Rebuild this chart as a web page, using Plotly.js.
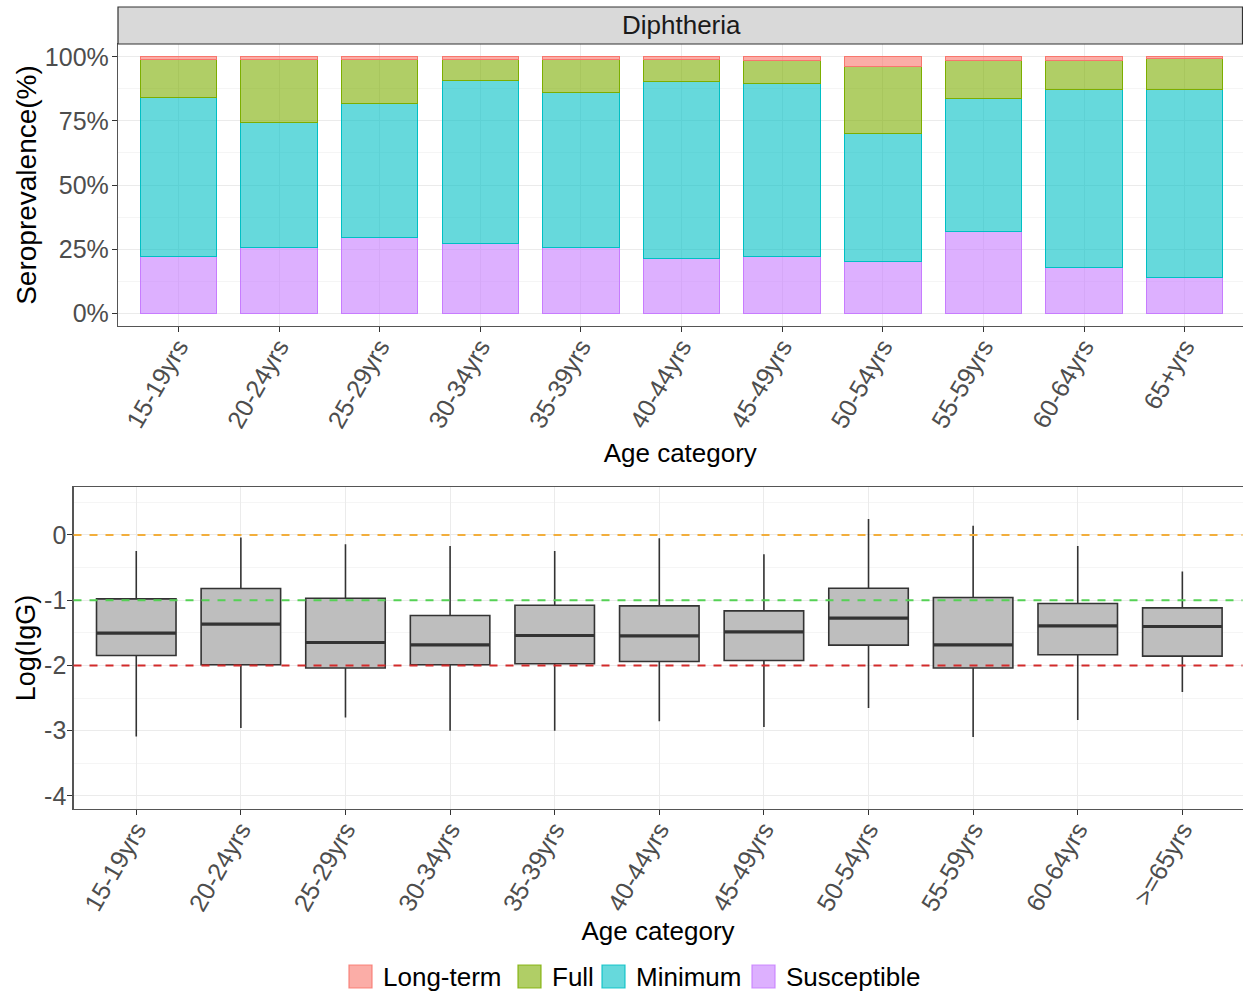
<!DOCTYPE html>
<html>
<head>
<meta charset="utf-8">
<script src="https://cdn.plot.ly/plotly-3.0.1.min.js"></script>
<style>
html,body{margin:0;padding:0;background:#fff;}
#chart{width:1243px;height:991px;}
</style>
</head>
<body>
<div id="chart"></div>
<script>
// ---------- data ----------
var topCategories = ["15-19yrs","20-24yrs","25-29yrs","30-34yrs","35-39yrs","40-44yrs","45-49yrs","50-54yrs","55-59yrs","60-64yrs","65+yrs"];
var susceptible = [22.1, 25.8, 29.7, 27.1, 25.5, 21.5, 22.0, 20.3, 31.9, 18.0, 14.1];
var minimum     = [62.0, 48.4, 51.9, 63.8, 60.4, 68.7, 67.6, 49.8, 52.0, 69.4, 73.1];
var full        = [14.9, 24.8, 17.4,  8.1, 13.1,  8.8,  8.8, 26.0, 14.8, 11.0, 12.0];
var longTerm    = [ 1.0,  1.0,  1.0,  1.0,  1.0,  1.0,  1.6,  3.9,  1.3,  1.6,  0.8];

var bottomCategories = ["15-19yrs","20-24yrs","25-29yrs","30-34yrs","35-39yrs","40-44yrs","45-49yrs","50-54yrs","55-59yrs","60-64yrs",">=65yrs"];
var upperWhisker = [-0.245, -0.04, -0.143, -0.168, -0.245, -0.05, -0.296,  0.245,  0.143, -0.168, -0.561];
var q3Values     = [-0.98, -0.82, -0.97, -1.235, -1.077, -1.087, -1.163, -0.816, -0.959, -1.051, -1.117];
var medianValues = [-1.505, -1.367, -1.648, -1.684, -1.541, -1.546, -1.485, -1.276, -1.684, -1.393, -1.403];
var q1Values     = [-1.847, -1.99, -2.04, -1.99, -1.974, -1.94, -1.923, -1.689, -2.04, -1.837, -1.857];
var lowerWhisker = [-3.087, -2.96, -2.796, -3.0, -3.0, -2.857, -2.944, -2.653, -3.097, -2.837, -2.408];

var thresholds = [0, -1, -2];
var thresholdColors = ["#F2AE3C", "#55D155", "#D12B2B"];

var legendNames = ["Long-term", "Full", "Minimum", "Susceptible"];
var legendColors = ["248,118,109", "124,174,0", "0,191,196", "199,124,255"];

// ---------- helpers ----------
var W = 1243, H = 991;
function px(x){ return x / W; }
function py(y){ return 1 - y / H; }
var idxTop = topCategories.map(function(_, i){ return i; });
var idxBot = bottomCategories.map(function(_, i){ return i; });

var FONT = "Liberation Sans, Arial, sans-serif";
var tickFont = {family: FONT, size: 25, color: "#4D4D4D"};
var titleFont = {family: FONT, size: 26, color: "#000"};

function barTrace(name, vals, rgb){
  return {
    type: "bar", name: name, x: idxTop, y: vals, width: 0.76,
    xaxis: "x", yaxis: "y", showlegend: false,
    marker: {color: "rgba(" + rgb + ",0.6)", line: {color: "rgb(" + rgb + ")", width: 1}},
    hoverinfo: "name+y"
  };
}

var traces = [
  barTrace("Susceptible", susceptible, legendColors[3]),
  barTrace("Minimum", minimum, legendColors[2]),
  barTrace("Full", full, legendColors[1]),
  barTrace("Long-term", longTerm, legendColors[0])
];

traces.push({
  type: "box", x: idxBot, xaxis: "x2", yaxis: "y2",
  q1: q1Values, median: medianValues, q3: q3Values,
  lowerfence: lowerWhisker, upperfence: upperWhisker,
  width: 0.76, whiskerwidth: 0, boxpoints: false,
  fillcolor: "#BEBEBE", line: {color: "#333333", width: 1.6},
  showlegend: false, name: "Log(IgG)"
});

// thicker median bars (ggplot style)
var mx = [], my = [];
idxBot.forEach(function(i){
  mx.push(i - 0.38, i + 0.38, null);
  my.push(medianValues[i], medianValues[i], null);
});
traces.push({
  type: "scatter", mode: "lines", x: mx, y: my, xaxis: "x2", yaxis: "y2",
  line: {color: "#333333", width: 3.2}, showlegend: false, hoverinfo: "skip"
});

var topDom = [py(326), py(44)];
var botDom = [py(809), py(487)];

var shapes = [
  // facet strip
  {type: "rect", xref: "paper", yref: "paper", x0: px(118), x1: px(1242.5), y0: py(44), y1: py(7),
   fillcolor: "#D9D9D9", line: {color: "#333333", width: 1.2}, layer: "above"}
];
thresholds.forEach(function(t, k){
  shapes.push({type: "line", xref: "x2 domain", yref: "y2", x0: 0, x1: 1, y0: t, y1: t,
    line: {color: thresholdColors[k], width: 2, dash: "8px,8px"}, layer: "above"});
});

var annotations = [
  {text: "Diphtheria", xref: "paper", yref: "paper", x: px(681), y: py(25.5),
   xanchor: "center", yanchor: "middle", showarrow: false,
   font: {family: FONT, size: 26, color: "#1A1A1A"}}
];

// custom legend (ggplot-like keys)
var keyLeft = [349, 518, 602, 752];
legendNames.forEach(function(name, k){
  var x0 = keyLeft[k];
  shapes.push({type: "rect", xref: "paper", yref: "paper",
    x0: px(x0), x1: px(x0 + 23), y0: py(988), y1: py(965),
    fillcolor: "rgba(" + legendColors[k] + ",0.6)",
    line: {color: "rgba(" + legendColors[k] + ",0.85)", width: 1.2}});
  annotations.push({text: name, xref: "paper", yref: "paper", x: px(x0 + 32), y: py(977),
    xanchor: "left", yanchor: "middle", showarrow: false,
    font: {family: FONT, size: 26, color: "#000"}});
});

var commonAxis = {
  showline: true, mirror: true, linecolor: "#555555", linewidth: 1.2,
  ticks: "outside", ticklen: 5, tickcolor: "#333333", tickwidth: 1,
  gridcolor: "#EBEBEB", gridwidth: 1, zeroline: false, tickfont: tickFont
};

var layout = {
  width: W, height: H,
  margin: {l: 0, r: 0, t: 0, b: 0},
  paper_bgcolor: "#fff", plot_bgcolor: "#fff",
  barmode: "stack", bargap: 0,
  font: {family: FONT},
  xaxis: Object.assign({}, commonAxis, {
    domain: [px(118), px(1242.5)], anchor: "y",
    range: [-0.6, 10.575], tickvals: idxTop, ticktext: topCategories, tickangle: -60,
    ticklabelstandoff: -10,
    title: {text: "Age category", font: titleFont, standoff: 12}
  }),
  yaxis: Object.assign({}, commonAxis, {
    domain: topDom, anchor: "x",
    range: [-5, 105], tickvals: [0, 25, 50, 75, 100], ticktext: ["0%", "25%", "50%", "75%", "100%"],
    minor: {tickvals: [12.5, 37.5, 62.5, 87.5], showgrid: true, gridcolor: "#F5F5F5", ticks: ""},
    ticklabelstandoff: -2,
    title: {text: "Seroprevalence(%)", font: {family: FONT, size: 28, color: "#000"}, standoff: 0}
  }),
  xaxis2: Object.assign({}, commonAxis, {
    domain: [px(73.5), px(1242.5)], anchor: "y2",
    range: [-0.6, 10.575], tickvals: idxBot, ticktext: bottomCategories, tickangle: -60,
    ticklabelstandoff: -10,
    title: {text: "Age category", font: titleFont, standoff: 6}
  }),
  yaxis2: Object.assign({}, commonAxis, {
    domain: botDom, anchor: "x2",
    range: [-4.2, 0.735], tickvals: [-4, -3, -2, -1, 0], ticktext: ["-4", "-3", "-2", "-1", "0"],
    minor: {tickvals: [-3.5, -2.5, -1.5, -0.5, 0.5], showgrid: true, gridcolor: "#F5F5F5", ticks: ""},
    ticklabelstandoff: -4,
    title: {text: "Log(IgG)", font: {family: FONT, size: 27, color: "#000"}, standoff: 0}
  }),
  shapes: shapes,
  annotations: annotations,
  showlegend: false
};

Plotly.newPlot("chart", traces, layout, {displayModeBar: false, staticPlot: true});
</script>
</body>
</html>
